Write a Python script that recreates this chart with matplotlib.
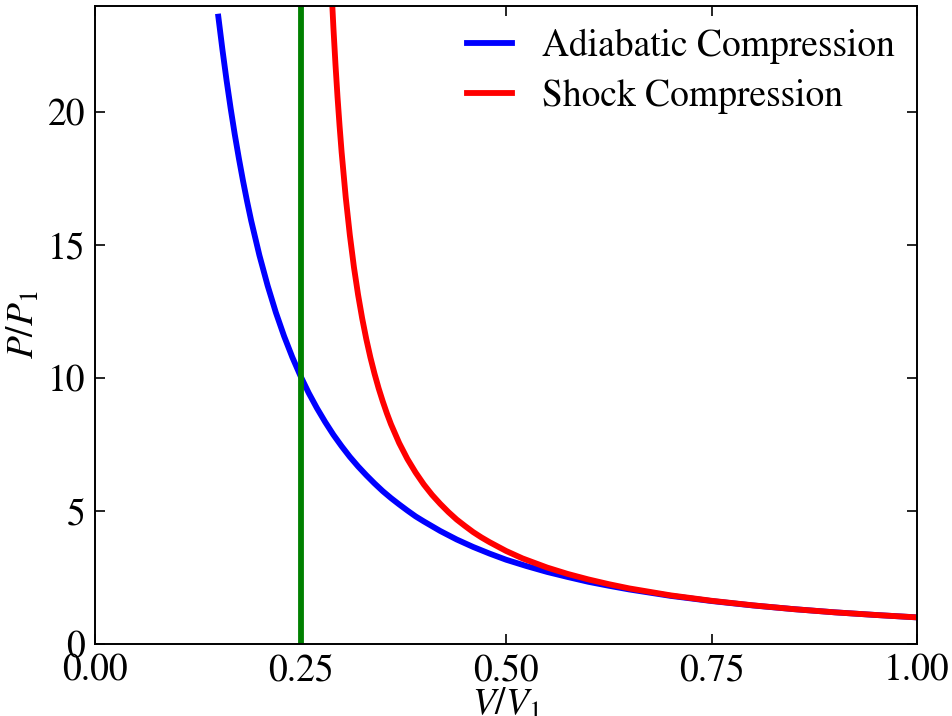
import matplotlib
matplotlib.use("Agg")
import matplotlib.pyplot as plt

plt.rcParams['font.family'] = ['STIXGeneral', 'DejaVu Serif']
plt.rcParams['mathtext.fontset'] = 'stix'
plt.rcParams['font.size'] = 27

# adiabatic curve, P/P1
v_adiab = [0.15, 0.155, 0.16, 0.165, 0.17, 0.175, 0.18, 0.185, 0.19, 0.20,
           0.21, 0.22, 0.23, 0.24, 0.25, 0.26, 0.27, 0.28, 0.29, 0.30, 0.31,
           0.32, 0.33, 0.34, 0.35, 0.36, 0.37, 0.38, 0.39, 0.40, 0.42, 0.44,
           0.46, 0.48, 0.50, 0.525, 0.55, 0.575, 0.60, 0.625, 0.65, 0.70,
           0.75, 0.80, 0.85, 0.90, 0.95, 1.00]
p_adiab = [23.60, 22.36, 21.21, 20.15, 19.17, 18.27, 17.43, 16.65, 15.92, 14.62,
           13.48, 12.47, 11.58, 10.79, 10.08, 9.44, 8.87, 8.35, 7.87, 7.44, 7.04,
           6.68, 6.35, 6.04, 5.75, 5.49, 5.25, 5.02, 4.80, 4.61, 4.25, 3.93,
           3.65, 3.40, 3.17, 2.93, 2.71, 2.52, 2.34, 2.19, 2.05, 1.81,
           1.615, 1.45, 1.31, 1.19, 1.09, 1.00]

# shock curve (runs off the top near V/V1 = 0.29)
v_shock = [0.28, 0.2825, 0.285, 0.2875, 0.29, 0.2925, 0.295, 0.2975, 0.30,
           0.305, 0.31, 0.315, 0.32, 0.325, 0.33, 0.335, 0.34, 0.345, 0.35,
           0.355, 0.36, 0.37, 0.38, 0.39, 0.40, 0.41, 0.42, 0.43, 0.44, 0.45,
           0.46, 0.47, 0.48, 0.50, 0.52, 0.55, 0.575, 0.60, 0.625, 0.65, 0.70,
           0.75, 0.80, 0.85, 0.90, 0.95, 1.00]
p_shock = [31.0, 28.6, 26.54, 24.75, 23.19, 21.81, 20.58, 19.49, 18.5,
           16.80, 15.38, 14.17, 13.14, 12.25, 11.47, 10.78, 10.17, 9.62, 9.13,
           8.68, 8.27, 7.56, 6.96, 6.45, 6.00, 5.61, 5.27, 4.96, 4.68, 4.44,
           4.21, 4.01, 3.83, 3.50, 3.22, 2.875, 2.635, 2.43, 2.25, 2.09, 1.83,
           1.625, 1.455, 1.31, 1.19, 1.09, 1.00]

v_limit = 0.25

fig = plt.figure(figsize=(9.52, 7.16), dpi=100)
ax = fig.add_axes([0.0998, 0.1006, 0.8635, 0.891])

ax.plot(v_adiab, p_adiab, color='blue', lw=4.2, label='Adiabatic Compression')
ax.plot(v_shock, p_shock, color='red', lw=4.2, label='Shock Compression')
ax.axvline(v_limit, color='green', lw=4.2)

ax.set_xlim(0, 1)
ax.set_ylim(0, 24)
ax.set_xticks([0, 0.25, 0.5, 0.75, 1.0])
ax.set_xticklabels(['0.00', '0.25', '0.50', '0.75', '1.00'])
ax.set_yticks([0, 5, 10, 15, 20])
ax.tick_params(direction='in', top=True, right=True, length=7, width=1.2, pad=7)
for s in ax.spines.values():
    s.set_linewidth(1.4)

ax.set_xlabel('$V/V_1$', labelpad=-1)
ax.set_ylabel('$P/P_1$', labelpad=4)
ax.legend(loc='upper right', frameon=False, handlelength=1.2, fontsize=27,
          labelspacing=0.4, borderaxespad=0.2)

fig.savefig('out.png', dpi=100)
